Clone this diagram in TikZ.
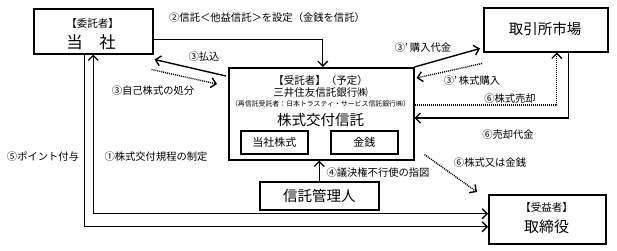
\documentclass[tikz,border=0pt]{standalone}
\usepackage{fontspec}
\setmainfont{Noto Sans CJK JP}
\usetikzlibrary{arrows.meta,calc}
\tikzset{
  box/.style={draw, line width=1.5pt, inner sep=0pt, anchor=north west},
  txt/.style={inner sep=0pt, font=\fontsize{10.5}{12}\selectfont},
  bigtxt/.style={inner sep=0pt, font=\fontsize{14.5}{16}\selectfont},
  lbl/.style={inner sep=0pt, font=\fontsize{10.3}{12}\selectfont},
  arr/.style={line width=1.4pt, -{Straight Barb[length=5pt,width=10pt,line width=1.4pt]}},
  arrboth/.style={line width=1.4pt, {Straight Barb[length=5pt,width=10pt,line width=1.4pt]}-{Straight Barb[length=5pt,width=10pt,line width=1.4pt]}},
  dotarr/.style={line width=1.4pt, dash pattern=on 1pt off 1pt, -{Straight Barb[length=5pt,width=10pt,line width=1.4pt]}}
}
\begin{document}
\begin{tikzpicture}[x=1pt,y=-1pt]
\useasboundingbox[fill=white] (0,0) rectangle (617,250);
% boxes
\node[box, minimum width=119pt, minimum height=45pt] (tousha) at (33,8) {};
\node[txt] (tousha1) at (92.5,24) {【委託者】};
\node[inner sep=0pt, font=\fontsize{16.5}{18}\selectfont] (tousha2) at (91,42) {当　社};

\node[box, minimum width=124pt, minimum height=44pt] (market) at (483,7) {};
\node[bigtxt] (markett) at (545,29) {取引所市場};

\node[box, minimum width=185pt, minimum height=92pt] (trust) at (228,67) {};
\node[txt] (trust1) at (320.5,81) {【受託者】（予定）};
\node[txt] (trust2) at (320.5,93) {三井住友信託銀行㈱};
\node[inner sep=0pt, font=\fontsize{6.9}{8}\selectfont] (trust3) at (320.5,104) {（再信託受託者：日本トラスティ・サービス信託銀行㈱）};
\node[bigtxt] (trust4) at (320.5,120) {株式交付信託};
\node[box, minimum width=67pt, minimum height=23pt, font=\fontsize{11}{12}\selectfont] (kabu) at (240,130) {当社株式};
\node[box, minimum width=67pt, minimum height=23pt, font=\fontsize{11}{12}\selectfont] (kinsen) at (330,130) {金銭};

\node[box, minimum width=119pt, minimum height=28pt, font=\fontsize{14.5}{16}\selectfont] (kanri) at (259,181) {信託管理人};

\node[box, minimum width=117pt, minimum height=49pt] (tori) at (488,194) {};
\node[txt] (tori1) at (546.5,208) {【受益者】};
\node[inner sep=0pt, font=\fontsize{15}{16}\selectfont] (tori2) at (546.5,227) {取締役};

% connectors
\draw[arr] ([yshift=15pt]tousha.south east) -| ([xshift=1.5pt]trust.north);
\draw[arr] ([xshift=-2pt,yshift=-9pt]trust.north west) -- ([xshift=1pt,yshift=-5pt]tousha.south east);
\draw[dotarr] ([xshift=-2pt,yshift=-15pt]tousha.south east) -- ([xshift=-11pt,yshift=-17pt]trust.north west);
\draw[arr] (trust.north east) -- ([xshift=-3pt,yshift=4pt]market.south west);
\draw[dotarr] ([xshift=-1pt,yshift=-11pt]market.south west) -- ([xshift=2pt,yshift=-11pt]trust.north east);
\draw[dotarr] ([yshift=-38pt]trust.north east) -| ([xshift=11pt]market.south);
\draw[arr] ([xshift=23pt]market.south) |- ([yshift=-51pt]trust.north east);
\draw[dotarr] ([xshift=10pt,yshift=6pt]trust.south east) -- ([xshift=-11pt,yshift=2pt]tori.north west);
\draw[arr] (kanri.north) -- (kanri.north |- trust.south);
\draw[arrboth] (tousha.south) |- ([yshift=5.5pt]tori.west);
\draw[arr] ([xshift=-8.5pt]tousha.south) |- ([yshift=-7.5pt]tori.west);

% labels
\node[lbl] (l2) at (267,18) {②信託＜他益信託＞を設定（金銭を信託）};
\node[lbl] (l3a) at (204,57) {③払込};
\node[lbl] (l3b) at (153,91) {③自己株式の処分};
\node[lbl] (l3c) at (423,48) {③’\hspace{2pt}購入代金};
\node[lbl] (l3d) at (472,81) {③’\hspace{2pt}株式購入};
\node[lbl] (l6a) at (510,99) {⑥株式売却};
\node[lbl] (l6b) at (508,135) {⑥売却代金};
\node[lbl] (l6c) at (490,163) {⑥株式又は金銭};
\node[lbl] (l4) at (378,173) {④議決権不行使の指図};
\node[lbl] (l5) at (43,157) {⑤ポイント付与};
\node[lbl] (l1) at (156,157) {①株式交付規程の制定};
\end{tikzpicture}
\end{document}
